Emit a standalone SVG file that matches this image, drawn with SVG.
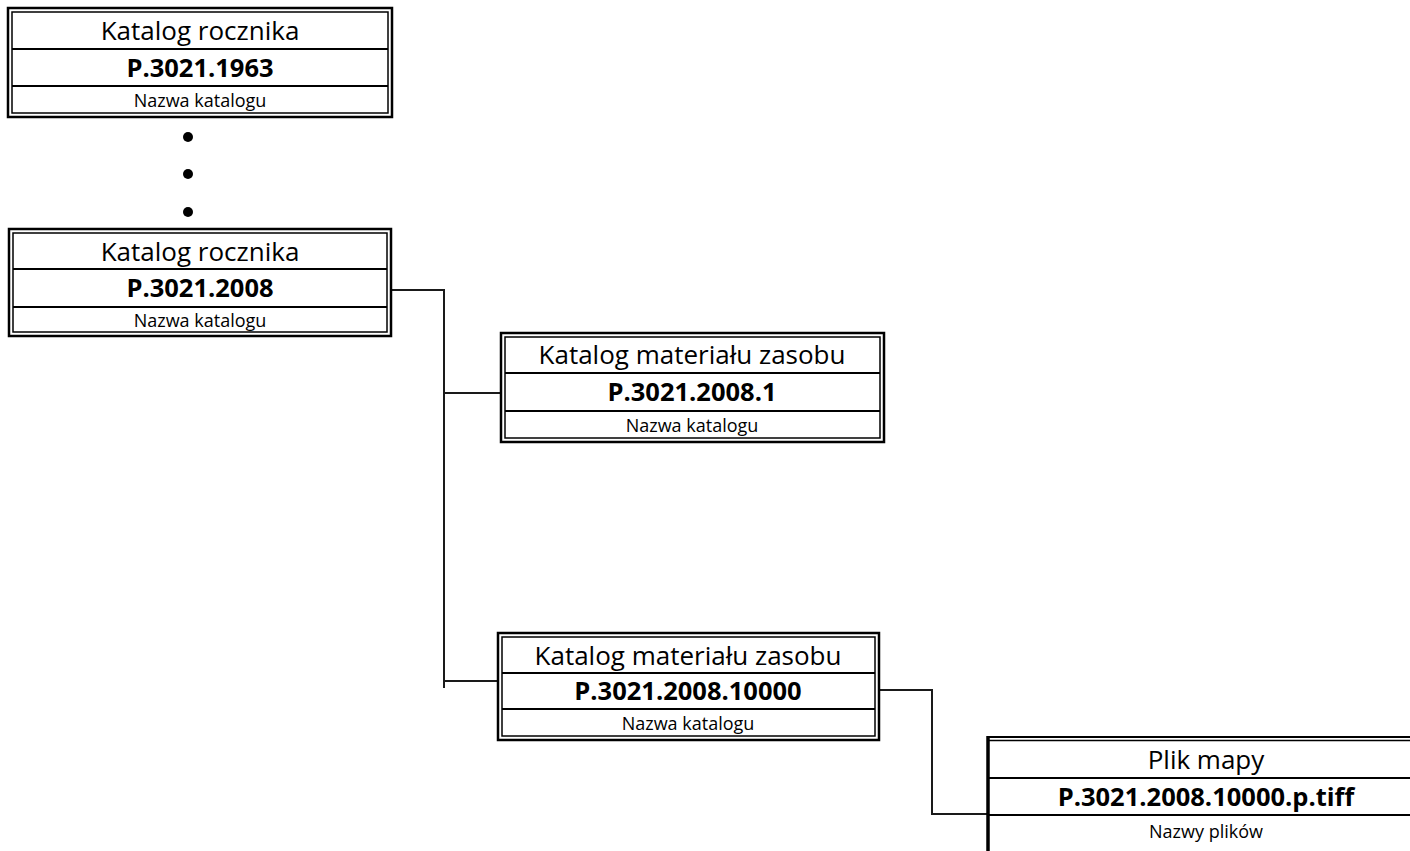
<svg xmlns="http://www.w3.org/2000/svg" width="1410" height="851" viewBox="0 0 1410 851">
<style>
.bg{fill:#fff}
.outer{fill:#fff;stroke:#000;stroke-width:2.5}
.inner{fill:none;stroke:#000;stroke-width:1.5}
.div{stroke:#000;stroke-width:2}
.t{font-family:"Open Sans","Liberation Sans",sans-serif;font-size:26px;fill:#000;text-anchor:middle}
.c{font-family:"Open Sans","Liberation Sans",sans-serif;font-size:25.5px;font-weight:bold;fill:#000;text-anchor:middle}
.n{font-family:"Open Sans","Liberation Sans",sans-serif;font-size:18px;fill:#000;text-anchor:middle}
.conn{fill:none;stroke:#1a1a1a;stroke-width:2}
.dot{fill:#000}
</style>
<rect class="bg" x="0" y="0" width="1410" height="851"/>
<g id="connectors">
<polyline class="conn" points="391,290 444,290 444,688"/>
<line class="conn" x1="444" y1="393" x2="501" y2="393"/>
<line class="conn" x1="444" y1="681" x2="498" y2="681"/>
<polyline class="conn" points="879,690 932,690 932,814 987,814"/>
</g>
<g id="dots">
<circle class="dot" cx="188" cy="137" r="5"/>
<circle class="dot" cx="188" cy="174" r="5"/>
<circle class="dot" cx="188" cy="212" r="5"/>
</g>
<g id="node-1963">
<rect class="outer" x="8" y="8" width="384" height="109"/>
<rect class="inner" x="12" y="12" width="376" height="101"/>
<line class="div" x1="12" y1="49" x2="388" y2="49"/>
<line class="div" x1="12" y1="86" x2="388" y2="86"/>
<text class="t" x="200" y="40">Katalog rocznika</text>
<text class="c" x="200" y="77">P.3021.1963</text>
<text class="n" x="200" y="107">Nazwa katalogu</text>
</g>
<g id="node-2008">
<rect class="outer" x="9" y="229" width="382" height="107"/>
<rect class="inner" x="13" y="233" width="374" height="99"/>
<line class="div" x1="13" y1="269" x2="387" y2="269"/>
<line class="div" x1="13" y1="307" x2="387" y2="307"/>
<text class="t" x="200" y="261">Katalog rocznika</text>
<text class="c" x="200" y="297">P.3021.2008</text>
<text class="n" x="200" y="327">Nazwa katalogu</text>
</g>
<g id="node-2008-1">
<rect class="outer" x="501" y="333" width="383" height="109"/>
<rect class="inner" x="505" y="337" width="375" height="101"/>
<line class="div" x1="505" y1="373" x2="880" y2="373"/>
<line class="div" x1="505" y1="411" x2="880" y2="411"/>
<text class="t" x="692" y="364">Katalog materiału zasobu</text>
<text class="c" x="692" y="401">P.3021.2008.1</text>
<text class="n" x="692" y="432">Nazwa katalogu</text>
</g>
<g id="node-2008-10000">
<rect class="outer" x="498" y="633" width="381" height="107"/>
<rect class="inner" x="502" y="637" width="373" height="99"/>
<line class="div" x1="502" y1="673" x2="875" y2="673"/>
<line class="div" x1="502" y1="709" x2="875" y2="709"/>
<text class="t" x="688" y="665">Katalog materiału zasobu</text>
<text class="c" x="688" y="700">P.3021.2008.10000</text>
<text class="n" x="688" y="730">Nazwa katalogu</text>
</g>
<g id="node-tiff">
<rect class="outer" x="988" y="737" width="500" height="200" style="stroke-width:2"/>
<line x1="988" y1="740.5" x2="1410" y2="740.5" stroke="#000" stroke-width="1.5"/>
<line x1="988" y1="736" x2="988" y2="851" stroke="#000" stroke-width="3.5"/>
<line class="div" x1="988" y1="778" x2="1410" y2="778"/>
<line class="div" x1="988" y1="815" x2="1410" y2="815"/>
<text class="t" x="1206" y="769">Plik mapy</text>
<text class="c" x="1206" y="806">P.3021.2008.10000.p.tiff</text>
<text class="n" x="1206" y="838">Nazwy plików</text>
</g>
</svg>
